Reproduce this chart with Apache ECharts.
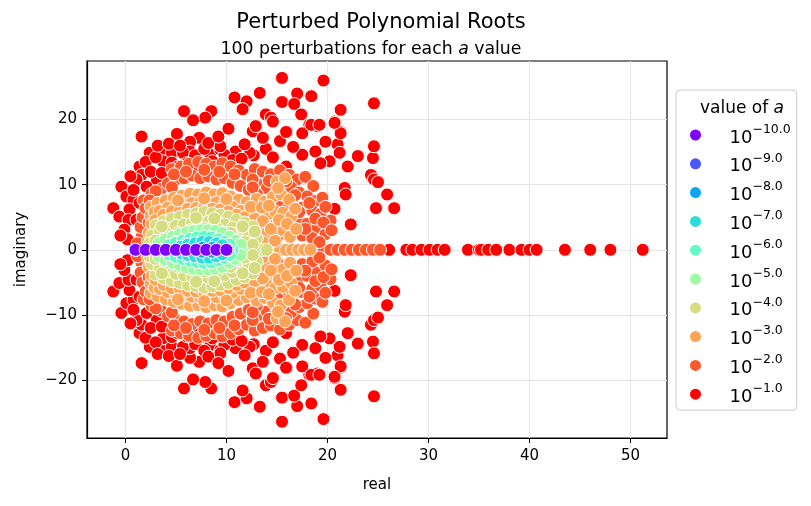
<!DOCTYPE html>
<html>
<head>
  <meta charset="UTF-8">
  <title>Perturbed Polynomial Roots</title>
  <script src="https://cdnjs.cloudflare.com/ajax/libs/echarts/6.0.0/echarts.min.js"></script>
  <style>
    html, body {
      margin: 0;
      height: 100%;
      background: #fff;
    }
    #main {
      width: 811px;
      height: 506px;
    }
  </style>
</head>
<body>
  <div id="main"></div>

  <script>
    // a = 10^k, k from -10 to -1 (legend order)
    const exponents = ['−10.0', '−9.0', '−8.0', '−7.0', '−6.0', '−5.0', '−4.0', '−3.0', '−2.0', '−1.0'];
    const palette = ['#8000ff', '#4757fb', '#0ea4f0', '#2adddd', '#63fbc3', '#9cfba4', '#d5dd80', '#ffa457', '#ff572c', '#ff0000'];

    // Roots. realX = roots on the real axis,
    // upperX = roots with positive imaginary part (their conjugates are the lower half).
    const realE10 = [1, 2, 3, 4, 5, 6, 7, 8, 9, 10];
    const upperE10 = [];

    const realE9 = [1, 2, 3, 4, 5, 6, 7, 8, 9, 10];
    const upperE9 = [];

    const realE8 = [1, 2, 3, 4, 5, 6, 7, 8, 9, 10];
    const upperE8 = [[7.6, 0.3], [8.6, 0.3]];

    const realE7 = [1, 2, 3, 4, 5, 6, 7, 8, 9, 10, 10.2];
    const upperE7 = [[5.5, 0.5], [6.2, 0.8], [6.9, 1.0], [7.6, 1.2], [8.3, 1.2], [9.0, 1.0], [9.6, 0.7]];

    const realE6 = [10.3, 10.6];
    const upperE6 = [[4.3, 0.7], [5.0, 1.1], [5.7, 1.4], [6.4, 1.7], [7.1, 1.9], [7.8, 2.0], [8.5, 1.9],
      [9.2, 1.6], [9.8, 1.2], [10.3, 0.8], [6.0, 0.9], [8.2, 1.1]];

    const realE5 = [10.6, 11.1, 11.5];
    const upperE5 = [[3.3, 1.0], [4.0, 1.6], [4.7, 2.0], [5.4, 2.4], [6.1, 2.7], [6.8, 2.9], [7.5, 3.0],
      [8.2, 3.0], [8.9, 2.9], [9.6, 2.6], [10.3, 2.0], [10.9, 1.4], [11.4, 0.8], [5.0, 1.2], [6.5, 1.6],
      [8.0, 1.8], [9.5, 1.4]];

    const realE4 = [11.8, 12.4, 13.0, 13.6, 14.0];
    const upperE4 = [[3.0, 3.8], [3.8, 4.4], [4.6, 4.8], [5.4, 5.1], [6.2, 5.4], [7.0, 5.6], [7.8, 5.8],
      [8.6, 5.6], [9.4, 5.4], [10.2, 5.1], [11.0, 4.6], [11.8, 4.2], [12.6, 3.6], [2.6, 2.2], [3.4, 2.8],
      [4.2, 3.3], [5.0, 3.7], [5.8, 3.9], [6.6, 4.1], [7.4, 4.2], [8.2, 4.3], [9.0, 4.1], [9.8, 3.9],
      [10.6, 3.4], [11.4, 2.8], [12.2, 2.2], [13.0, 1.8], [2.4, 1.0], [3.0, 1.4], [11.0, 1.6], [11.8, 1.2],
      [12.6, 0.8], [4.0, 2.0], [5.2, 2.6], [6.4, 3.0], [7.8, 3.3], [9.2, 3.1], [10.4, 2.6], [3.6, 3.6],
      [11.6, 3.6], [12.8, 2.8], [7.0, 4.9], [8.8, 4.8]];

    const realE3 = [14.7, 15.3, 15.9, 16.5, 17.1, 17.7, 18.3];
    const upperE3 = [[2.5, 6.6], [3.2, 7.2], [4.0, 7.6], [4.8, 8.0], [5.6, 8.3], [6.4, 8.6], [7.2, 8.5],
      [8.0, 8.8], [8.8, 8.5], [9.6, 8.7], [10.4, 8.2], [11.2, 7.7], [12.0, 7.3], [13.0, 7.8], [13.8, 7.4],
      [14.6, 8.1], [15.4, 8.5], [16.2, 7.7], [15.0, 10.5], [15.8, 11.0], [2.5, 5.2], [2.9, 5.8], [3.4, 6.0],
      [4.2, 6.5], [5.0, 6.8], [5.8, 7.0], [6.6, 7.2], [7.4, 7.3], [8.2, 7.1], [9.0, 7.3], [9.8, 7.0],
      [10.6, 6.6], [11.4, 6.0], [12.3, 5.6], [13.2, 5.7], [14.0, 5.3], [14.8, 5.9], [15.6, 5.7], [16.4, 5.1],
      [2.2, 1.2], [2.3, 2.6], [2.6, 4.0], [12.5, 4.0], [13.2, 3.2], [14.0, 2.6], [14.8, 3.8], [15.6, 3.0],
      [16.3, 2.0], [13.6, 1.2], [14.8, 1.4], [3.0, 4.6], [3.8, 5.4], [4.6, 5.9], [5.4, 6.0], [6.2, 6.3],
      [7.0, 6.4], [7.8, 6.5], [8.6, 6.3], [9.4, 6.2], [10.2, 5.9], [11.0, 5.4], [11.8, 5.0], [12.8, 4.8],
      [13.6, 4.4], [14.4, 3.2], [15.2, 4.6], [16.0, 4.0], [16.9, 3.2], [12.4, 6.6], [13.5, 6.5], [14.2, 6.8],
      [5.2, 7.6], [7.8, 7.9], [10.0, 7.8], [15.1, 9.5], [16.8, 6.3]];

    const realE2 = [18.9, 19.6, 20.3, 21.0, 21.7, 22.4, 23.1, 23.8, 24.5, 25.2];
    const upperE2 = [[4.6, 12.4], [5.5, 12.8], [6.3, 13.2], [7.2, 13.5], [8.0, 13.2], [8.8, 12.8], [9.6, 13.3],
      [10.4, 12.8], [11.2, 12.2], [12.0, 11.5], [12.8, 12.4], [13.6, 12.0], [14.4, 11.6], [15.3, 12.2],
      [16.2, 11.5], [17.0, 10.8], [17.8, 11.2], [18.6, 9.8], [1.8, 7.6], [2.6, 8.6], [3.6, 9.4], [4.2, 10.2],
      [5.0, 10.8], [5.8, 11.0], [6.6, 11.4], [7.4, 11.0], [8.2, 11.3], [9.0, 10.8], [9.8, 11.0], [10.6, 10.3],
      [11.4, 9.8], [12.2, 9.2], [13.2, 10.0], [14.0, 9.5], [14.8, 10.0], [15.6, 9.2], [16.4, 9.6], [17.2, 8.8],
      [18.0, 8.2], [18.8, 7.5], [19.5, 8.0], [13.5, 7.0], [14.5, 7.5], [15.5, 7.0], [16.5, 7.2], [17.5, 6.5],
      [18.5, 6.0], [19.3, 5.5], [16.0, 5.0], [17.0, 4.5], [18.0, 4.0], [19.0, 3.5], [14.5, 4.5], [15.5, 3.5],
      [16.5, 2.8], [17.5, 2.2], [18.5, 1.8], [19.8, 2.4], [20.3, 4.5], [13.8, 2.5], [15.0, 1.8], [1.6, 2.0],
      [1.5, 3.5], [1.7, 5.0], [2.0, 6.4], [2.3, 4.2], [1.2, 1.0], [4.8, 11.6], [6.0, 12.0], [7.8, 12.3],
      [9.3, 12.0], [10.8, 11.6], [12.6, 10.8], [14.2, 10.6], [15.9, 10.5], [3.0, 9.0], [4.6, 9.6], [2.4, 7.6],
      [2.9, 3.3], [2.7, 5.4], [13.0, 8.6], [14.9, 8.6], [16.8, 8.4], [18.2, 7.2], [19.8, 6.6], [17.2, 5.8],
      [18.8, 4.8], [19.6, 4.2], [16.0, 6.2], [17.8, 3.2], [19.2, 1.2], [20.4, 3.0], [16.3, 3.8], [12.6, 9.6]];

    const realE1 = [26.1, 27.8, 28.4, 29.3, 30.1, 30.9, 31.6, 33.9, 35.0, 35.2, 35.9, 36.7, 38.0, 39.2,
      40.0, 40.7, 43.5, 46.0, 48.0, 51.2];
    const upperE1 = [[15.5, 26.4], [19.6, 26.0], [10.8, 23.4], [12.0, 22.8], [11.6, 21.6], [13.3, 24.1],
      [15.5, 22.7], [17.0, 24.0], [16.7, 22.4], [18.4, 23.6], [24.6, 22.5], [5.8, 21.3], [8.5, 21.3],
      [7.9, 20.3], [6.7, 19.9], [13.9, 20.8], [14.4, 20.3], [17.4, 20.8], [21.3, 21.5], [20.7, 19.7],
      [18.2, 19.2], [19.0, 19.0], [12.6, 18.2], [16.0, 18.1], [15.3, 16.7], [17.5, 17.9], [21.3, 18.1],
      [1.6, 17.4], [5.1, 17.8], [7.3, 17.2], [6.4, 16.6], [13.9, 15.5], [10.9, 15.1], [12.7, 14.5],
      [17.5, 14.6], [18.8, 15.1], [21.0, 16.2], [21.2, 14.9], [20.2, 13.6], [19.3, 13.3], [22.0, 12.8],
      [23.0, 14.4], [24.5, 14.1], [24.6, 15.9], [24.3, 11.5], [24.6, 10.8], [25.0, 10.4], [25.9, 8.5],
      [21.7, 9.5], [21.8, 8.5], [24.8, 6.4], [26.6, 6.4], [20.7, 6.3], [22.3, 3.9], [18.5, 3.7],
      [6.4, 15.1], [2.4, 14.9], [3.9, 15.4], [4.6, 14.9], [3.7, 13.6], [5.7, 14.9], [6.1, 13.3], [1.4, 12.8],
      [1.6, 11.5], [1.1, 10.8], [3.1, 10.8], [4.6, 13.4], [4.4, 11.8], [7.5, 13.4], [7.0, 12.3], [8.4, 14.6],
      [9.4, 15.4], [12.3, 14.9], [-0.4, 9.7], [0.1, 8.2], [0.8, 7.7], [0.4, 6.2], [-1.2, 6.4], [-0.6, 5.1],
      [0.3, 4.6], [-0.1, 3.1], [2.1, 9.7], [1.4, 7.2], [1.1, 4.6], [12.9, 19.0], [14.6, 19.7], [15.9, 18.1],
      [9.8, 14.6], [9.4, 15.9], [18.4, 19.2], [19.2, 19.2], [21.3, 17.9], [20.7, 19.5], [15.9, 12.8],
      [0.5, 11.3], [2.0, 13.5], [3.0, 14.2], [2.5, 12.0], [3.6, 11.8], [5.2, 12.8], [0.8, 9.2], [3.2, 16.0],
      [4.3, 16.3], [5.4, 16.0], [6.9, 14.5], [7.8, 15.5], [8.6, 13.6], [10.6, 13.8], [11.5, 14.0],
      [11.8, 16.2], [0.2, 1.6], [-0.5, 2.2], [8.2, 16.4], [9.2, 17.4], [10.2, 18.6], [13.6, 17.2],
      [14.6, 14.2], [16.6, 15.8], [19.8, 16.6]];

    const realRoots = [realE10, realE9, realE8, realE7, realE6, realE5, realE4, realE3, realE2, realE1];
    const upperRoots = [upperE10, upperE9, upperE8, upperE7, upperE6, upperE5, upperE4, upperE3, upperE2, upperE1];

    const xTicks = [0, 10, 20, 30, 40, 50];
    const yTicks = [-20, -10, 0, 10, 20];

    const FONT = 'DejaVu Sans';

    // real polynomial: every complex root comes with its conjugate
    function rootsFor(i) {
      const pts = realRoots[i].map(x => [x, 0]);
      upperRoots[i].forEach(p => {
        pts.push([p[0], p[1]]);
        pts.push([p[0], -p[1]]);
      });
      return pts;
    }

    const series = exponents.map((name, i) => ({
      name: name,
      type: 'scatter',
      data: rootsFor(i),
      symbol: 'circle',
      symbolSize: 13,
      z: 20 - i,
      itemStyle: {
        color: palette[i],
        borderColor: '#ffffff',
        borderWidth: 1,
        opacity: 1
      },
      emphasis: { disabled: true }
    }));

    const minus = v => (v < 0 ? '\u2212' + Math.abs(v) : String(v));

    const myChart = echarts.init(document.getElementById('main'));

    const option = {
      animation: false,
      backgroundColor: '#fff',
      title: [
        {
          text: 'Perturbed Polynomial Roots',
          left: 376,
          top: 7,
          textAlign: 'center',
          textStyle: { fontFamily: FONT, fontSize: 21, fontWeight: 'normal', color: '#000' }
        },
        {
          text: '{n|100 perturbations for each }{i|a}{n| value}',
          left: 366,
          top: 36,
          textAlign: 'center',
          textStyle: {
            fontWeight: 'normal',
            rich: {
              n: { fontFamily: FONT, fontSize: 17.3, fontWeight: 'normal', color: '#000' },
              i: { fontFamily: FONT, fontSize: 17.3, fontWeight: 'normal', fontStyle: 'italic', color: '#000' }
            }
          }
        },
        {
          text: '{n|value of }{i|a}',
          left: 737,
          top: 95,
          textAlign: 'center',
          z: 10,
          textStyle: {
            fontWeight: 'normal',
            rich: {
              n: { fontFamily: FONT, fontSize: 17, fontWeight: 'normal', color: '#000' },
              i: { fontFamily: FONT, fontSize: 17, fontWeight: 'normal', fontStyle: 'italic', color: '#000' }
            }
          }
        }
      ],
      legend: {
        orient: 'vertical',
        left: 676,
        top: 90,
        padding: [33, 6, 4, 12],
        itemGap: 4.8,
        itemWidth: 24,
        itemHeight: 13,
        icon: 'circle',
        selectedMode: false,
        backgroundColor: 'rgba(255,255,255,0.8)',
        borderColor: '#cccccc',
        borderWidth: 1,
        borderRadius: 4,
        data: exponents,
        formatter: name => '{b|10}{s|' + name + '}',
        textStyle: {
          rich: {
            b: { fontFamily: FONT, fontSize: 18, color: '#000', lineHeight: 24, verticalAlign: 'bottom', padding: [0, 0, 0, 17] },
            s: { fontFamily: FONT, fontSize: 12.5, color: '#000', lineHeight: 12, verticalAlign: 'top' }
          }
        }
      },
      grid: {
        left: 87,
        top: 61,
        width: 580,
        height: 377,
        show: true,
        borderColor: '#000',
        borderWidth: 1.2,
        backgroundColor: '#fff'
      },
      xAxis: {
        type: 'value',
        min: -3.8,
        max: 53.6,
        name: 'real',
        nameLocation: 'middle',
        nameGap: 40,
        nameTextStyle: { fontFamily: FONT, fontSize: 15, color: '#000' },
        axisLine: { show: true, onZero: false, lineStyle: { color: '#000', width: 1.2 } },
        axisTick: { show: true, inside: false, length: 5, customValues: xTicks, lineStyle: { color: '#000', width: 1 } },
        axisLabel: { customValues: xTicks, margin: 11, fontFamily: FONT, fontSize: 15, color: '#000', formatter: minus },
        splitLine: { show: true, lineStyle: { color: '#e6e6e6', width: 1.2 } }
      },
      yAxis: {
        type: 'value',
        min: -28.9,
        max: 29.0,
        name: 'imaginary',
        nameLocation: 'middle',
        nameGap: 58,
        nameTextStyle: { fontFamily: FONT, fontSize: 15, color: '#000' },
        axisLine: { show: true, onZero: false, lineStyle: { color: '#000', width: 1.2 } },
        axisTick: { show: true, inside: false, length: 5, customValues: yTicks, lineStyle: { color: '#000', width: 1 } },
        axisLabel: { customValues: yTicks, margin: 10, fontFamily: FONT, fontSize: 15, color: '#000', formatter: minus },
        splitLine: { show: true, lineStyle: { color: '#e6e6e6', width: 1.2 } }
      },
      series: series
    };

    myChart.setOption(option);

    window.addEventListener('resize', () => {
      myChart.resize();
    });
  </script>
</body>
</html>
